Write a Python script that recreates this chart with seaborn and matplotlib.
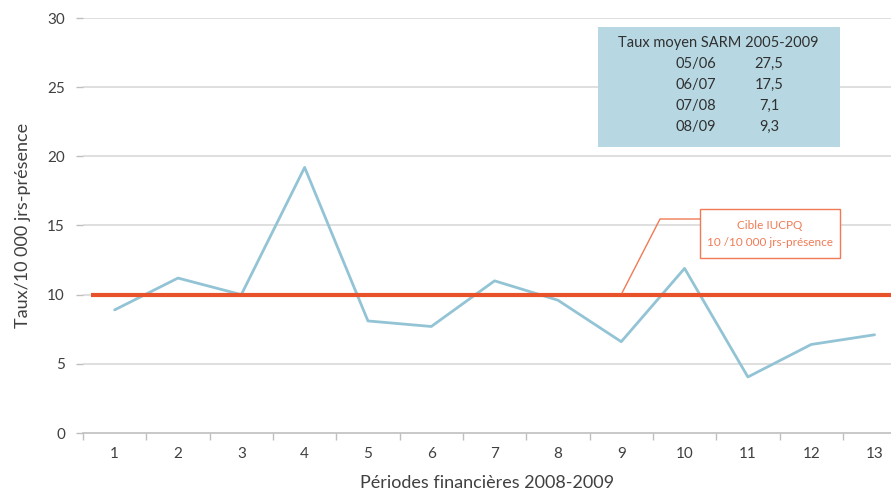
import matplotlib
matplotlib.use("Agg")
import matplotlib.pyplot as plt
import seaborn as sns
import pandas as pd
from matplotlib.patches import Rectangle

periods = ["1", "2", "3", "4", "5", "6", "7", "8", "9", "10", "11", "12", "13"]
rates = [8.9, 11.2, 10.0, 19.2, 8.1, 7.7, 11.0, 9.6, 6.6, 11.9, 4.05, 6.4, 7.1]
target = 10
table_years = ["05/06", "06/07", "07/08", "08/09"]
table_rates = ["27,5", "17,5", "7,1", "9,3"]

sns.set_theme(style="white")
plt.rcParams['font.family'] = ['Lato', 'DejaVu Sans']
plt.rcParams['font.weight'] = 'normal'
plt.rcParams['axes.labelweight'] = 'normal'

df = pd.DataFrame({"x": range(len(periods)), "taux": rates})

fig = plt.figure(figsize=(8.91, 4.94), dpi=100)
ax = fig.add_axes([83/891, (494-433)/494, (891-83)/891, (433-18)/494])

grid_c = "#D9D9D9"
for v in range(5, 31, 5):
    ax.axhline(v, color=grid_c, lw=1.2, zorder=0)

sns.lineplot(data=df, x="x", y="taux", ax=ax, color="#93C4D5", lw=2, zorder=3)
ax.plot([-0.38, 12.26], [target, target], color="#E8522A", lw=3, zorder=4, solid_capstyle="butt")

ax.set_xlim(-0.5, 12.26)
ax.set_ylim(0, 30)
ax.set_yticks(range(0, 31, 5))
ax.set_xticks(range(len(periods)))
ax.set_xticklabels(periods)
ax.set_xticks([i + 0.5 for i in range(-1, 12)], minor=True)
ax.tick_params(axis="x", which="major", length=0, pad=10, labelsize=11, colors="#404040")
ax.tick_params(axis="x", which="minor", length=5, direction="out", color="#BFBFBF", width=1, bottom=True)
ax.tick_params(axis="y", length=5, direction="out", color="#BFBFBF", width=1, left=True, pad=8,
               labelsize=11, labelcolor="#404040")
for s in ["top", "right", "left"]:
    ax.spines[s].set_visible(False)
ax.spines["bottom"].set_color("#BFBFBF")
ax.spines["bottom"].set_linewidth(1.2)

ax.set_xlabel("Périodes financières 2008-2009", fontsize=13, color="#404040", labelpad=10)
ax.set_ylabel("Taux/10 000 jrs-présence", fontsize=13, color="#404040", labelpad=12)

# table box
box = Rectangle((598/891, 1-147/494), (840-598)/891, (147-27)/494, transform=fig.transFigure,
                facecolor="#B7D8E3", edgecolor="none", zorder=5)
fig.patches.append(box)
fig.text(718/891, 1-43/494, "Taux moyen SARM 2005-2009", ha="center", va="center", fontsize=10.5,
         color="#303030", zorder=10)
for i, (a, b) in enumerate(zip(table_years, table_rates)):
    yy = 1 - (64 + i*21)/494
    fig.text(696/891, yy, a, ha="center", va="center", fontsize=10.5, color="#303030", zorder=10)
    fig.text(769/891, yy, b, ha="center", va="center", fontsize=10.5, color="#303030", zorder=10)

# callout
oc = "#F07A55"
cb = Rectangle((700/891, 1-258/494), (840-700)/891, (258-209)/494, transform=fig.transFigure,
               facecolor="white", edgecolor=oc, lw=1, zorder=6)
fig.patches.append(cb)
fig.text(770/891, 1-225/494, "Cible IUCPQ", ha="center", va="center", fontsize=8.5, color=oc, zorder=10)
fig.text(770/891, 1-242/494, "10 /10 000 jrs-présence", ha="center", va="center", fontsize=8.5, color=oc, zorder=10)
fig.lines.append(plt.Line2D([622/891, 660/891, 700/891], [1-293/494, 1-219/494, 1-219/494],
                            transform=fig.transFigure, color=oc, lw=1))

fig.savefig("out.png", dpi=100)
